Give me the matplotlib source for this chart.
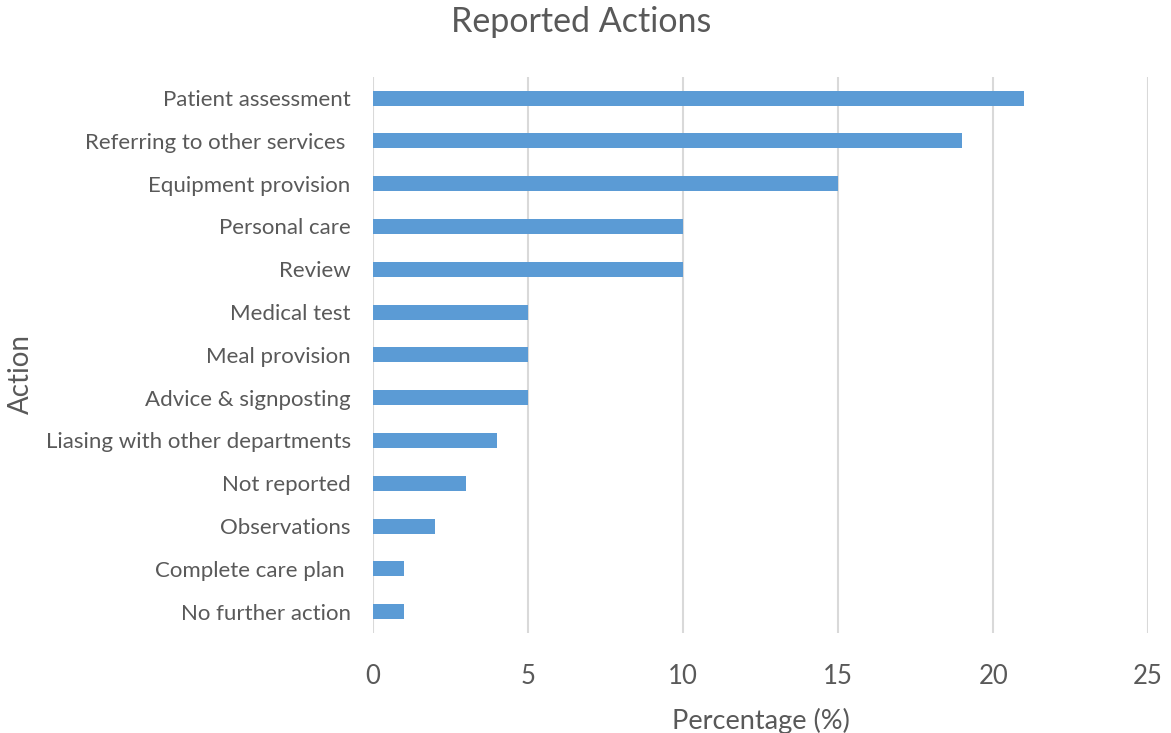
import matplotlib
matplotlib.use("Agg")
import matplotlib.pyplot as plt

actions = [
    "Patient assessment",
    "Referring to other services ",
    "Equipment provision",
    "Personal care",
    "Review",
    "Medical test",
    "Meal provision",
    "Advice & signposting",
    "Liasing with other departments",
    "Not reported",
    "Observations",
    "Complete care plan ",
    "No further action",
]
percent = [21, 19, 15, 10, 10, 5, 5, 5, 4, 3, 2, 1, 1]
xticks = [0, 5, 10, 15, 20, 25]

TEXT = "#595959"
plt.rcParams["font.family"] = ["Lato", "DejaVu Sans"]

fig = plt.figure(figsize=(11.71, 7.33), dpi=100)
ax = fig.add_axes([0.3185, 0.1364, 0.662, 0.759])

ypos = list(range(len(actions)))
ax.barh(ypos, percent, height=0.35, color="#5B9BD5", zorder=3)
ax.set_ylim(len(actions) - 0.5, -0.5)
ax.set_xlim(0, 25)
ax.set_xticks(xticks)
ax.set_yticks(ypos)
ax.set_yticklabels(actions)

ax.grid(axis="x", color="#D9D9D9", linewidth=1.5, zorder=0)
ax.set_axisbelow(True)
for s in ax.spines.values():
    s.set_visible(False)
ax.tick_params(axis="both", length=0, colors=TEXT)
ax.tick_params(axis="y", labelsize=16, pad=16)
ax.tick_params(axis="x", labelsize=18.5, pad=22)

ax.set_xlabel("Percentage (%)", fontsize=19.5, color=TEXT, labelpad=14)
fig.text(0.018, 0.49, "Action", rotation=90, fontsize=20, color=TEXT,
         ha="center", va="center")
fig.text(0.496, 0.97, "Reported Actions", fontsize=24.5, color=TEXT,
         ha="center", va="center")

fig.savefig("out.png", dpi=100)
